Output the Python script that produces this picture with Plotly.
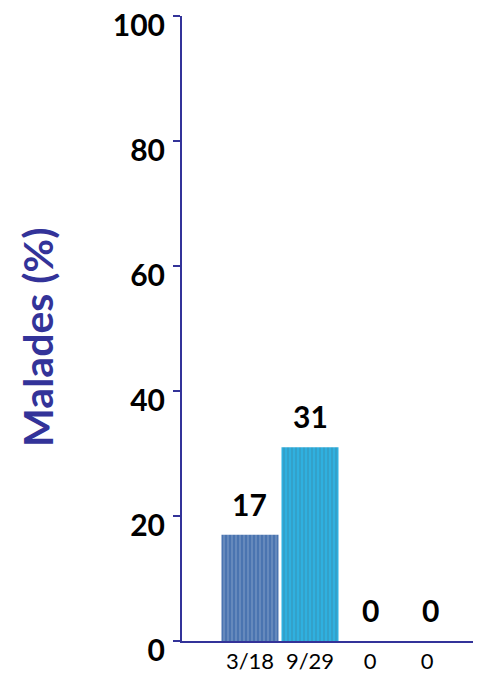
import plotly.graph_objects as go

categories = ["3/18", "9/29", "0", "0 "]
values = [17, 31, 0, 0]
labels = ["17", "31", "0", "0"]
bar_colors = ["#4a74b0", "#2fb0e0", "#4a74b0", "#2fb0e0"]
stripe_colors = ["#35558a", "#2a8fb8", "#35558a", "#2a8fb8"]
y_ticks = [0, 20, 40, 60, 80, 100]
y_title = "Malades (%)"

axis_color = "#333399"

fig = go.Figure()
fig.add_trace(go.Bar(
    x=categories,
    y=values,
    marker=dict(
        color=bar_colors,
        line=dict(width=0),
        pattern=dict(shape="|", fgcolor=stripe_colors, size=4, solidity=0.15),
    ),
    width=0.95,
    hoverinfo="skip",
))

for i, (v, t) in enumerate(zip(values, labels)):
    fig.add_annotation(
        x=i, y=v, text=t, showarrow=False, yanchor="bottom", yshift=11,
        font=dict(family="Lato", size=30, color="black", weight="bold"),
    )

# y axis title as rotated annotation (placed in the left margin)
fig.add_annotation(
    xref="paper", yref="paper", x=0, y=0.485, xshift=-144,
    xanchor="center", yanchor="middle", textangle=-90, showarrow=False,
    text=y_title,
    font=dict(family="Lato", size=41, color=axis_color, weight="bold"),
)

# page body adds an 8px offset; figure is sized to compensate
fig.update_layout(
    width=473, height=667,
    margin=dict(l=174, r=1, t=8, b=34, autoexpand=False),
    paper_bgcolor="white", plot_bgcolor="white",
    showlegend=False,
)
fig.update_xaxes(
    type="category",
    range=[-1.133, 3.833],
    showline=True, linecolor=axis_color, linewidth=2,
    ticks="", showgrid=False, zeroline=False, automargin=False,
    tickfont=dict(family="Lato", size=22, color="black"),
)
fig.update_yaxes(
    range=[0, 100.05],
    tickvals=y_ticks,
    showline=True, linecolor=axis_color, linewidth=2,
    ticks="outside", ticklen=7, tickcolor=axis_color, tickwidth=2,
    ticklabelstandoff=2, ticklabelshift=9, ticklabeloverflow="allow",
    showgrid=False, zeroline=False, automargin=False,
    tickfont=dict(family="Lato", size=30, color="black", weight="bold"),
)

fig.write_html("out.html")
